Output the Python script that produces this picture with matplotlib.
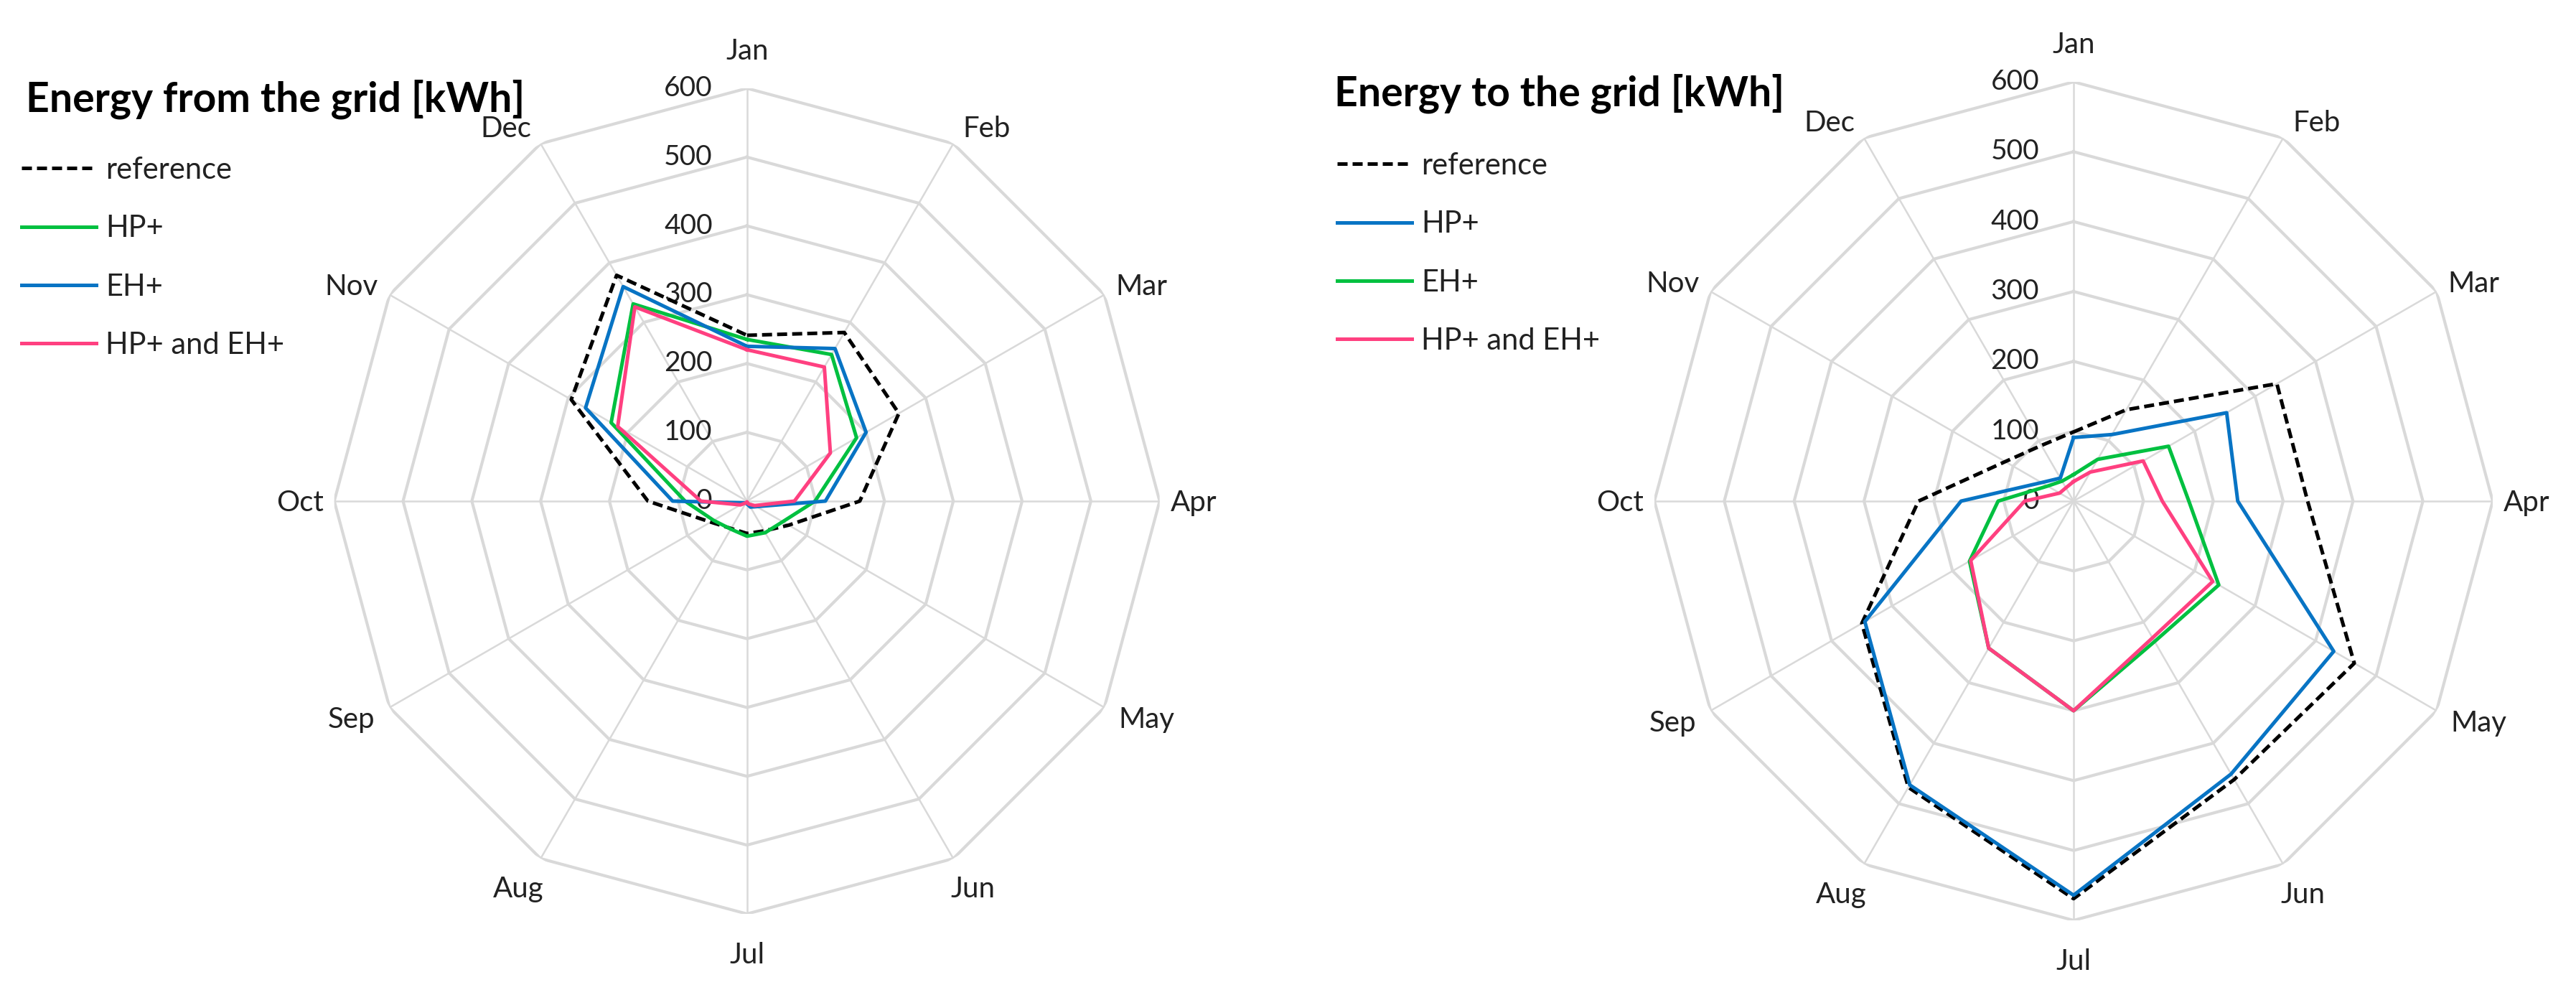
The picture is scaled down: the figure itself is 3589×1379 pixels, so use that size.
import numpy as np
import matplotlib
matplotlib.use('Agg')
import matplotlib.pyplot as plt
from matplotlib import transforms

plt.rcParams['font.family'] = ['Lato', 'DejaVu Sans']

months = ['Jan', 'Feb', 'Mar', 'Apr', 'May', 'Jun',
          'Jul', 'Aug', 'Sep', 'Oct', 'Nov', 'Dec']
rticks = [0, 100, 200, 300, 400, 500, 600]

# energy from the grid [kWh]
from_ref = [241, 283, 255, 164, 70, 50, 47, 46, 61, 144, 295, 379]
from_hp = [235, 246, 184, 99, 60, 53, 51, 47, 56, 90, 228, 331]
from_eh = [225, 256, 200, 114, 16, 10, 4, 3, 5, 108, 271, 360]
from_both = [220, 225, 140, 69, 13, 5, 1, 3, 11, 67, 217, 326]

# energy to the grid [kWh]
to_ref = [99, 151, 336, 335, 464, 460, 569, 473, 350, 222, 113, 92]
to_hp = [91, 110, 253, 235, 430, 451, 564, 469, 345, 161, 53, 38]
to_eh = [38, 69, 157, 165, 240, 232, 300, 243, 172, 108, 43, 33]
to_both = [28, 48, 115, 127, 230, 226, 300, 243, 170, 70, 23, 22]

GREEN = '#00c040'
BLUE = '#0874c4'
PINK = '#ff4080'
GRID = '#d9d9d9'
TXT = '#222222'

# excel-like placement of the month labels around the outer ring (pixels)
# (dx, dy of baseline, ha) for angles 0..330 deg
label_pos = [(0, 40, 'center'), (13, 9, 'left'), (16, -1, 'left'),
             (15, -14, 'left'), (20, -29, 'left'), (-4, -54, 'left'),
             (0, -69, 'center'), (4, -54, 'right'), (-20, -29, 'right'),
             (-15, -14, 'right'), (-16, -1, 'right'), (-13, 9, 'right')]

fig = plt.figure(figsize=(35.89, 13.79), dpi=100)


def radar(rect, title, title_xy, series, leg_xy):
    ax = fig.add_axes(rect, projection='polar')
    theta = np.deg2rad(np.arange(len(months)) * 30)
    closed = np.append(theta, theta[0])
    ax.set_theta_zero_location('N')
    ax.set_theta_direction(-1)
    ax.set_ylim(0, 600)
    ax.set_xticks([])
    ax.set_yticks([])
    ax.grid(False)
    ax.spines['polar'].set_visible(False)
    ax.patch.set_visible(False)

    # polygon grid instead of circles
    for t in theta:
        ax.plot([t, t], [0, 600], color=GRID, lw=1.8, zorder=1)
    for r in rticks[1:]:
        ax.plot(closed, [r] * len(closed), color=GRID, lw=3.0, zorder=1)

    for t, m, (dx, dy, ha) in zip(theta, months, label_pos):
        ax.annotate(m, xy=(t, 600), xytext=(dx, dy), textcoords='offset pixels',
                    ha=ha, va='baseline', size=29, color=TXT)
    off = transforms.offset_copy(ax.transData, fig=fig, x=-48, y=0, units='dots')
    for r in rticks:
        ax.text(0, r, str(r), transform=off, ha='right', va='center',
                size=28, color=TXT)

    handles = []
    for vals, lab, col, ls in series:
        v = np.append(vals, vals[0])
        h, = ax.plot(closed, v, color=col, lw=3.6, ls=ls, label=lab, zorder=3)
        handles.append(h)

    fig.text(title_xy[0], title_xy[1], title, ha='left', va='baseline',
             size=41, weight='bold', color='black')
    fig.legend(handles=handles, loc='upper left', bbox_to_anchor=leg_xy,
               bbox_transform=fig.transFigure, frameon=False, fontsize=30,
               handlelength=2.5, handletextpad=0.31, labelspacing=1.04,
               borderpad=0, borderaxespad=0, labelcolor=TXT)
    return ax


dash = (0, (2.8, 1.4))

radar([0.12976, 0.07687, 0.32042, 0.83394], 'Energy from the grid [kWh]',
      (36 / 3589, 1 - 156 / 1379),
      [(from_ref, 'reference', 'black', dash),
       (from_hp, 'HP+', GREEN, '-'),
       (from_eh, 'EH+', BLUE, '-'),
       (from_both, 'HP+ and EH+', PINK, '-')],
      (30 / 3589, 1 - 218 / 1379))

radar([0.64224, 0.07034, 0.32544, 0.84699], 'Energy to the grid [kWh]',
      (1859 / 3589, 1 - 147 / 1379),
      [(to_ref, 'reference', 'black', dash),
       (to_hp, 'HP+', BLUE, '-'),
       (to_eh, 'EH+', GREEN, '-'),
       (to_both, 'HP+ and EH+', PINK, '-')],
      (1863 / 3589, 1 - 212 / 1379))

fig.savefig('out.png', dpi=100, facecolor='white')
